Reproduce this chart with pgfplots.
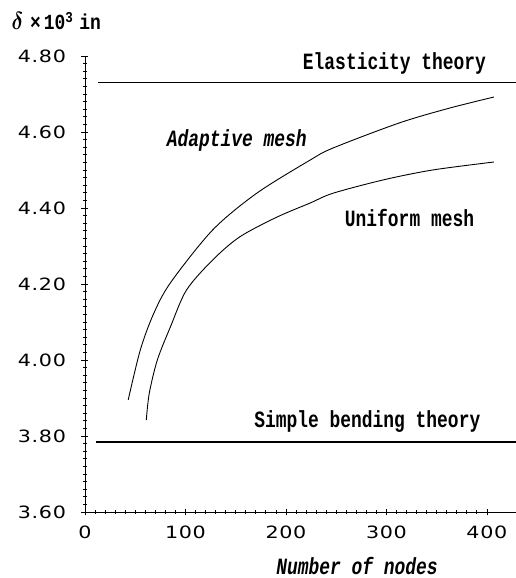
\documentclass[border=0pt]{standalone}
\usepackage{amsmath}
\usepackage{fontspec}
\usepackage{pgfplots}
\pgfplotsset{compat=1.18}
\newfontfamily\ticksfont[FakeStretch=1.22, LetterSpace=4]{DejaVu Sans}
\newfontfamily\monofont{Liberation Mono}
\newcommand{\lbl}[1]{\scalebox{1}[1.3]{\monofont\bfseries\fontsize{18}{20}\selectfont #1}}
\newcommand{\lbli}[1]{\scalebox{1}[1.3]{\monofont\bfseries\itshape\fontsize{18}{20}\selectfont #1}}
\begin{document}
\begin{tikzpicture}
\path[use as bounding box] (-85bp,-66bp) rectangle (431bp,512bp);
\begin{axis}[
  scale only axis,
  width=431bp, height=456bp,
  xmin=0, xmax=429,
  ymin=3.6, ymax=4.8,
  axis lines*=left,
  xtick={0,100,200,300,400},
  ytick={3.6,3.8,4.0,4.2,4.4,4.6,4.8},
  minor x tick num=9,
  minor y tick num=9,
  tick align=center,
  major tick length=7bp,
  minor tick length=4bp,
  tick style={black, line width=0.7pt},
  axis line style={line width=1pt},
  yticklabel style={/pgf/number format/fixed, /pgf/number format/fixed zerofill, /pgf/number format/precision=2, xshift=-12bp},
  xticklabel style={/pgf/number format/fixed, yshift=-7bp},
  /pgf/number format/assume math mode=true,
  tick label style={font=\ticksfont\fontsize{17}{19}\selectfont},
  clip=false,
]
% reference lines
\addplot[black, line width=1.3pt] coordinates {(13,4.73) (429,4.73)};
\addplot[black, line width=1.3pt] coordinates {(11,3.784) (429,3.784)};
% adaptive mesh
\addplot[black, line width=0.9pt, smooth] coordinates {
  (43,3.895) (55,4.026) (68,4.12) (85,4.203) (127,4.342) (171,4.439)
  (224,4.526) (247,4.558) (313,4.624) (363,4.663) (407,4.692)
};
% uniform mesh
\addplot[black, line width=0.9pt, smooth] coordinates {
  (61,3.842) (64,3.913) (72,4.0) (85,4.087) (101,4.184) (127,4.263)
  (154,4.324) (191,4.376) (224,4.413) (247,4.439) (297,4.474) (346,4.50) (407,4.521)
};
\node at (axis cs:308,4.78) {\lbl{Elasticity theory}};
\node at (axis cs:281,3.837) {\lbl{Simple bending theory}};
\node at (axis cs:151,4.579) {\lbli{Adaptive mesh}};
\node at (axis cs:323,4.374) {\lbl{Uniform mesh}};
\end{axis}
\node at (272bp,-54bp) {\lbli{Number of nodes}};
\node[anchor=west] at (-77bp,491bp) {\scalebox{1}[1.2]{\fontsize{20}{22}\selectfont$\boldsymbol{\delta}$\hspace{7bp}\monofont\bfseries\fontsize{18}{20}\selectfont×\hspace{3bp}10\textsuperscript{3}\hspace{6bp}in}};
\end{tikzpicture}
\end{document}
